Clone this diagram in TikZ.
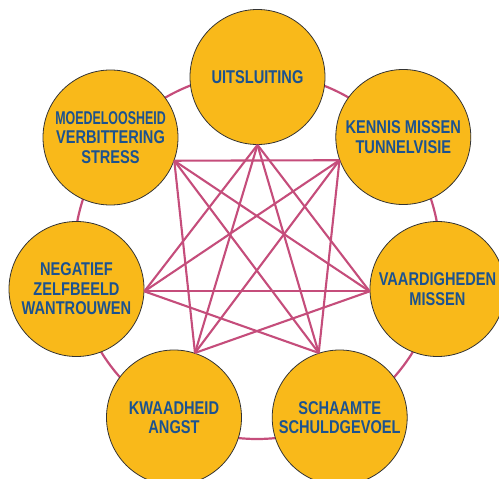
\documentclass[tikz,border=0pt]{standalone}
\usepackage{graphicx}
\usepackage{fontspec}
\newfontfamily\labfont{Liberation Sans}[FakeStretch=0.79]
\definecolor{circfill}{HTML}{F9B91A}
\definecolor{labblue}{HTML}{1B5290}
\definecolor{linkpink}{HTML}{C54D7B}
\begin{document}
\begin{tikzpicture}[x=1pt,y=-1pt,
  bubble/.style={circle, draw=black!80, line width=0.8pt, fill=circfill,
    minimum size=135pt, inner sep=0pt, align=center,
    font=\labfont\bfseries\fontsize{18.5}{19.5}\selectfont, text=labblue},
  ring/.style={draw=linkpink, line width=2.2pt},
  link/.style={draw=linkpink, line width=2.1pt}]
\useasboundingbox (0,0) rectangle (499,479);
\clip (0,0) rectangle (499,479);
\draw[ring] (257,256) circle[radius=183];
\node[bubble] (top) at (257.5,77) {UITSLUITING};
\node[bubble] (tr) at (403.3,137) {KENNIS MISSEN\\TUNNELVISIE};
\node[bubble] (r) at (437.5,289) {VAARDIGHEDEN\\MISSEN};
\node[bubble] (br) at (339.7,417.5) {SCHAAMTE\\SCHULDGEVOEL};
\node[bubble] (bl) at (174,417.5) {KWAADHEID\\ANGST};
\node[bubble] (l) at (76.5,289) {NEGATIEF\\ZELFBEELD\\WANTROUWEN};
\node[bubble] (tl) at (110.5,137.5) {\scalebox{0.85}[1]{MOEDELOOSHEID}\\VERBITTERING\\STRESS};
\coordinate (p0) at (top.270);
\coordinate (p1) at (tr.200);
\coordinate (p2) at (r.182);
\coordinate (p3) at (br.108);
\coordinate (p4) at (bl.72);
\coordinate (p5) at (l.-2);
\coordinate (p6) at (tl.-20);
\foreach \a/\b in {0/2,0/3,0/4,0/5,1/3,1/4,1/5,1/6,2/4,2/5,2/6,3/5,3/6,4/6}
  \draw[link] (p\a) -- (p\b);
\end{tikzpicture}
\end{document}
